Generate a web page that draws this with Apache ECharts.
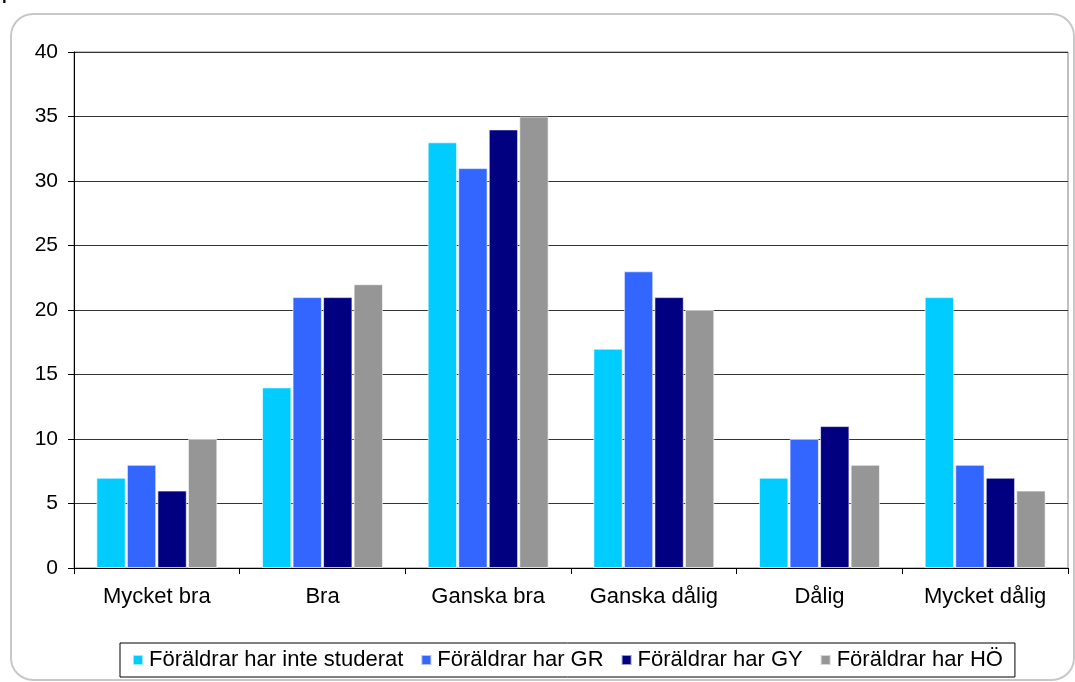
<!DOCTYPE html>
<html>
<head>
<meta charset="utf-8">
<script src="https://cdn.jsdelivr.net/npm/echarts@6/dist/echarts.min.js"></script>
<style>
  html, body { margin: 0; padding: 0; background: #fff; }
  #chart { width: 1075px; height: 682px; }
</style>
</head>
<body>
<div id="chart"></div>
<script>
  const categories = ['Mycket bra', 'Bra', 'Ganska bra', 'Ganska dålig', 'Dålig', 'Mycket dålig'];
  const seriesNames = ['Föräldrar har inte studerat', 'Föräldrar har GR', 'Föräldrar har GY', 'Föräldrar har HÖ'];
  const inteStuderat = [7, 14, 33, 17, 7, 21];
  const harGR = [8, 21, 31, 23, 10, 8];
  const harGY = [6, 21, 34, 21, 11, 7];
  const harHO = [10, 22, 35, 20, 8, 6];
  const colors = ['#00ccff', '#3366ff', '#000080', '#969696'];

  const font = 'Liberation Sans, Arial, sans-serif';
  const allValues = [inteStuderat, harGR, harGY, harHO];

  const myChart = echarts.init(document.getElementById('chart'));
  myChart.setOption({
    animation: false,
    textStyle: { fontFamily: font },
    graphic: [
      {
        type: 'rect',
        shape: { x: 11, y: 14, width: 1063, height: 666, r: 22 },
        style: { fill: 'none', stroke: '#c8c8c8', lineWidth: 2 }
      },
      {
        type: 'text',
        left: 2,
        top: -13,
        style: { text: 'procent', font: 'bold 17px ' + font, fill: '#000' }
      }
    ],
    grid: {
      left: 74, right: 7, top: 52, bottom: 114,
      show: true, borderColor: '#808080', borderWidth: 1
    },
    legend: {
      left: 120, top: 643,
      padding: [6, 12, 6, 12],
      itemGap: 17,
      itemWidth: 10, itemHeight: 10,
      icon: 'rect',
      borderColor: '#000', borderWidth: 1,
      textStyle: { fontSize: 22, color: '#000', fontFamily: font, padding: [0, 0, 0, 1] },
      data: seriesNames
    },
    xAxis: {
      type: 'category',
      data: categories,
      axisLine: { lineStyle: { color: '#000', width: 1 } },
      axisTick: { show: true, length: 6, lineStyle: { color: '#000' } },
      axisLabel: { color: '#000', fontSize: 22, margin: 18, interval: 0 }
    },
    yAxis: {
      type: 'value',
      min: 0, max: 40, interval: 5,
      axisLine: { show: true, lineStyle: { color: '#000', width: 1 } },
      axisTick: { show: true, length: 6, lineStyle: { color: '#000' } },
      axisLabel: { color: '#000', fontSize: 21, margin: 16 },
      splitLine: { lineStyle: { color: '#333', width: 1 } }
    },
    series: seriesNames.map((name, i) => ({
      name: name,
      type: 'bar',
      data: allValues[i],
      barGap: '4%',
      barCategoryGap: '27%',
      itemStyle: { color: colors[i], borderColor: 'rgba(255,255,255,0.6)', borderWidth: 1 }
    }))
  });
</script>
</body>
</html>
